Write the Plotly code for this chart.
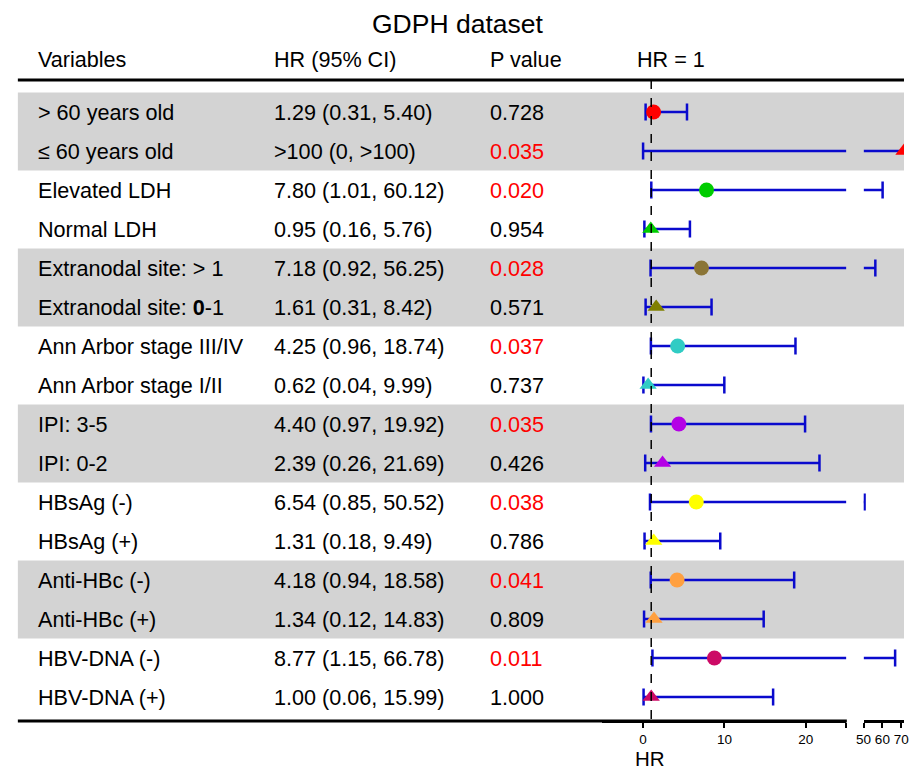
import plotly.graph_objects as go

# ---------------- data ----------------
variables = ["> 60 years old", "≤ 60 years old", "Elevated LDH", "Normal LDH",
             "Extranodal site: > 1", "Extranodal site: <b>0</b>-1",
             "Ann Arbor stage III/IV", "Ann Arbor stage I/II",
             "IPI: 3-5", "IPI: 0-2", "HBsAg (-)", "HBsAg (+)",
             "Anti-HBc (-)", "Anti-HBc (+)", "HBV-DNA (-)", "HBV-DNA (+)"]
hr_text = ["1.29 (0.31, 5.40)", ">100 (0, >100)", "7.80 (1.01, 60.12)", "0.95 (0.16, 5.76)",
           "7.18 (0.92, 56.25)", "1.61 (0.31, 8.42)", "4.25 (0.96, 18.74)", "0.62 (0.04, 9.99)",
           "4.40 (0.97, 19.92)", "2.39 (0.26, 21.69)", "6.54 (0.85, 50.52)", "1.31 (0.18, 9.49)",
           "4.18 (0.94, 18.58)", "1.34 (0.12, 14.83)", "8.77 (1.15, 66.78)", "1.00 (0.06, 15.99)"]
p_text = ["0.728", "0.035", "0.020", "0.954", "0.028", "0.571", "0.037", "0.737",
          "0.035", "0.426", "0.038", "0.786", "0.041", "0.809", "0.011", "1.000"]
hr = [1.29, 100, 7.80, 0.95, 7.18, 1.61, 4.25, 0.62, 4.40, 2.39, 6.54, 1.31, 4.18, 1.34, 8.77, 1.00]
lo = [0.31, 0, 1.01, 0.16, 0.92, 0.31, 0.96, 0.04, 0.97, 0.26, 0.85, 0.18, 0.94, 0.12, 1.15, 0.06]
hi = [5.40, 100, 60.12, 5.76, 56.25, 8.42, 18.74, 9.99, 19.92, 21.69, 50.52, 9.49, 18.58, 14.83, 66.78, 15.99]
x1_ticks = [0, 10, 20]
x2_ticks = [50, 60, 70]

# ---------------- styles ----------------
group_colors = ["#FF0000", "#00CC00", "#8B7536", "#30CCC4", "#B400E6", "#FFFF00", "#FFA040", "#CC0A66"]
tri_colors = ["#FF0000", "#00CC00", "#808000", "#30CCC4", "#B400E6", "#FFFF00", "#FFA040", "#CC0A66"]
BLUE = "#0A0ACD"
FONT = "Liberation Sans, Arial, sans-serif"
W, H = 909, 771
TS = 21.6

X1_RANGE = [-5, 25]
X2_RANGE = [50, 71.5]
px = lambda v: v / W
# y data coordinate: row i centred at pixel 112 + 39*i
def ypix(p):
    return (p - 112) / 39.0

n = len(variables)
rows = list(range(n))

fig = go.Figure()

# grey bands
for g in range(0, n, 4):
    fig.add_shape(type="rect", xref="paper", yref="y", x0=px(10), x1=1.0,
                  y0=g - 0.5, y1=g + 1.5, fillcolor="#D3D3D3", line_width=0, layer="below")

# CI segments on axis 1 and axis 2
seg1x, seg1y, seg2x, seg2y = [], [], [], []
cap1x, cap1y, cap2x, cap2y = [], [], [], []
for i in rows:
    seg1x += [lo[i], min(hi[i], X1_RANGE[1]), None]
    seg1y += [i, i, None]
    cap1x.append(lo[i]); cap1y.append(i)
    if hi[i] > X1_RANGE[1]:
        seg2x += [X2_RANGE[0], min(hi[i], X2_RANGE[1]), None]
        seg2y += [i, i, None]
        if hi[i] <= X2_RANGE[1]:
            cap2x.append(hi[i]); cap2y.append(i)
    else:
        cap1x.append(hi[i]); cap1y.append(i)

fig.add_trace(go.Scatter(x=seg1x, y=seg1y, mode="lines", line=dict(color=BLUE, width=2.5),
                         xaxis="x", yaxis="y", hoverinfo="skip"))
fig.add_trace(go.Scatter(x=seg2x, y=seg2y, mode="lines", line=dict(color=BLUE, width=2.5),
                         xaxis="x2", yaxis="y", hoverinfo="skip"))
cap_marker = dict(symbol="line-ns-open", size=12, color=BLUE, line=dict(color=BLUE, width=2.5))
fig.add_trace(go.Scatter(x=cap1x, y=cap1y, mode="markers", xaxis="x", yaxis="y", marker=cap_marker))
fig.add_trace(go.Scatter(x=cap2x, y=cap2y, mode="markers", xaxis="x2", yaxis="y", marker=cap_marker))

# point estimates
for i in rows:
    circle = (i % 2 == 0)
    col = group_colors[i // 2] if circle else tri_colors[i // 2]
    sym = "circle" if circle else "triangle-up"
    if hr[i] > X1_RANGE[1]:
        xa, xv = "x2", min(hr[i], X2_RANGE[1])
    else:
        xa, xv = "x", hr[i]
    fig.add_trace(go.Scatter(x=[xv], y=[i], mode="markers", xaxis=xa, yaxis="y",
                             marker=dict(symbol=sym, size=15, color=col, line_width=0)))

# HR = 1 dashed reference line
fig.add_shape(type="line", xref="x", yref="y", x0=1, x1=1, y0=ypix(80), y1=ypix(720),
              line=dict(color="black", width=1.5, dash="dash"))

# header / bottom rules
fig.add_shape(type="line", xref="paper", yref="y", x0=px(10), x1=1.0, y0=ypix(80), y1=ypix(80),
              line=dict(color="black", width=3))
fig.add_shape(type="line", xref="paper", yref="y", x0=px(10), x1=px(851), y0=ypix(721), y1=ypix(721),
              line=dict(color="black", width=3))

# table text
anns = []
def txt(x, y, s, size=TS, color="black", anchor="left"):
    anns.append(dict(x=x, y=y, xref="paper", yref="y", text=s, showarrow=False,
                     xanchor=anchor, yanchor="middle", font=dict(family=FONT, size=size, color=color)))

txt(px(456), ypix(24), "GDPH dataset", size=26.5, anchor="center")
txt(px(28), ypix(59), "Variables")
txt(px(268), ypix(59), "HR (95% CI)")
txt(px(487), ypix(59), "P value")
txt(px(636), ypix(59), "HR = 1")
for i in rows:
    txt(px(28), i, variables[i])
    txt(px(268), i, hr_text[i])
    pc = "#FF0000" if float(p_text[i]) < 0.05 else "black"
    txt(px(487), i, p_text[i], color=pc)
txt(px(651), ypix(758.5), "HR", size=20.5, anchor="center")

axis_pos = 1 - 721 / H
tick_common = dict(showgrid=False, zeroline=False, showline=True, linecolor="black", linewidth=2.5,
                   ticks="outside", ticklen=5, tickwidth=2, tickcolor="black",
                   tickfont=dict(family=FONT, size=13.5, color="black"), anchor="free",
                   position=axis_pos, fixedrange=True, ticklabeloverflow="allow")

x1_dom = [(644.3 + X1_RANGE[0] * 8.25) / W, (644.3 + X1_RANGE[1] * 8.25) / W]
fig.update_layout(
    width=W, height=H, margin=dict(l=0, r=0, t=0, b=0),
    paper_bgcolor="white", plot_bgcolor="rgba(0,0,0,0)", showlegend=False,
    xaxis=dict(domain=x1_dom, range=X1_RANGE,
               tickvals=x1_ticks + [X1_RANGE[1]],
               ticktext=[str(t) for t in x1_ticks] + [""], **tick_common),
    xaxis2=dict(domain=[868 / W, 1.0], range=X2_RANGE,
                tickvals=x2_ticks, ticktext=[str(t) for t in x2_ticks], **tick_common),
    yaxis=dict(domain=[0, 1], range=[ypix(H), ypix(0)], visible=False, fixedrange=True),
    annotations=anns,
)

fig.write_html("out.html", config={"displayModeBar": False},
               post_script="document.body.style.margin='0';document.body.style.overflow='hidden';")
